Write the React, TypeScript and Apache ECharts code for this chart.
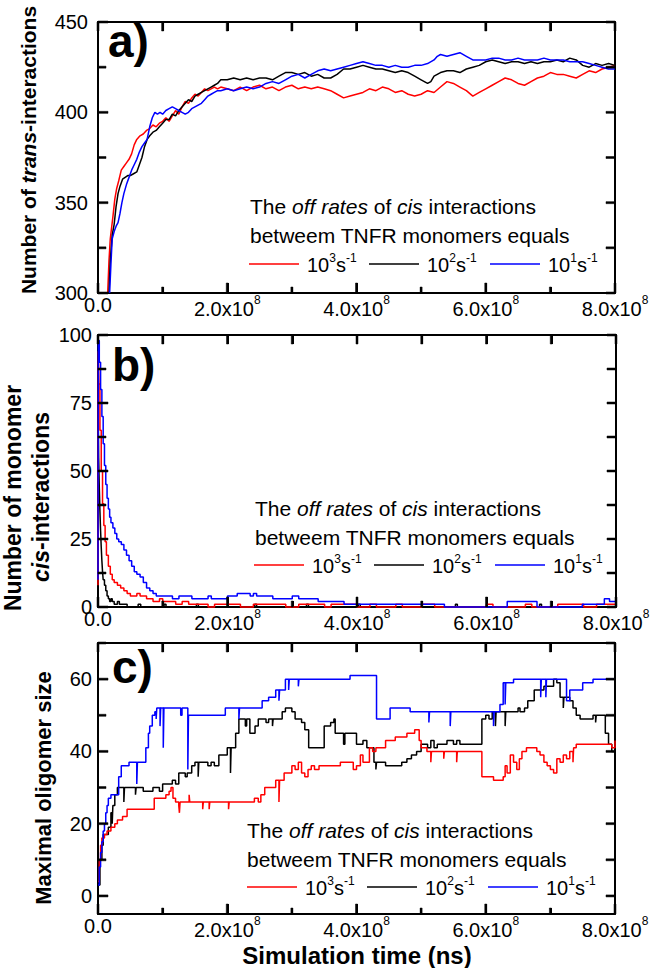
import React, { useEffect, useRef } from 'react';
import * as echarts from 'echarts';

const FONT = '"Liberation Sans", Arial, Helvetica, sans-serif';
const RED = '#ff0000';
const BLACK = '#000000';
const BLUE = '#0000ff';

const X_MIN = 0;
const X_MAX = 8;
const X_POWER = '8';
const rateExponents = ['3', '2', '1'];

const xTickValues = [0, 1, 2, 3, 4, 5, 6, 7, 8];
const aYTicks = [300, 325, 350, 375, 400, 425, 450];
const bYTicks = [0, 12.5, 25, 37.5, 50, 62.5, 75, 87.5, 100];
const cYTicks = [0, 10, 20, 30, 40, 50, 60, 70];
const cYLabels = [0, 20, 40, 60];

const aRed: [number, number][] = [
  [0.15, 300], [0.17, 318], [0.19, 330], [0.21, 336], [0.23, 342], [0.26, 352], [0.29, 358], [0.32, 362],
  [0.36, 368], [0.40, 370], [0.44, 372], [0.48, 374], [0.52, 377], [0.56, 382], [0.60, 385], [0.65, 387],
  [0.70, 388], [0.75, 390], [0.80, 391], [0.85, 393], [0.90, 392], [0.95, 394], [1.0, 395], [1.05, 397],
  [1.10, 395], [1.15, 398], [1.20, 401], [1.25, 399], [1.30, 403], [1.35, 406], [1.40, 405], [1.45, 408],
  [1.50, 410], [1.55, 409], [1.60, 411], [1.65, 413], [1.70, 412], [1.75, 413], [1.80, 414], [1.85, 413],
  [1.90, 414], [2.0, 413], [2.1, 412], [2.2, 414], [2.3, 412], [2.4, 414], [2.5, 415], [2.6, 413],
  [2.7, 414], [2.8, 412], [2.9, 414], [3.0, 415], [3.1, 413], [3.2, 414], [3.3, 413], [3.4, 414],
  [3.5, 413], [3.6, 412], [3.7, 410], [3.8, 408], [3.9, 409], [4.0, 410], [4.1, 411], [4.2, 413],
  [4.3, 412], [4.4, 414], [4.5, 413], [4.6, 411], [4.7, 412], [4.8, 410], [4.9, 409], [5.0, 410],
  [5.1, 412], [5.2, 411], [5.3, 414], [5.4, 417], [5.5, 416], [5.6, 414], [5.7, 412], [5.8, 409],
  [5.9, 411], [6.0, 413], [6.1, 415], [6.2, 417], [6.3, 419], [6.4, 418], [6.5, 416], [6.6, 415],
  [6.7, 417], [6.8, 419], [6.9, 420], [7.0, 422], [7.1, 421], [7.2, 421], [7.3, 420], [7.4, 419],
  [7.5, 421], [7.6, 423], [7.7, 422], [7.8, 424], [7.9, 425], [8.0, 426],
];
const aBlack: [number, number][] = [
  [0.17, 300], [0.19, 318], [0.22, 332], [0.25, 338], [0.28, 348], [0.31, 355], [0.34, 359], [0.38, 363],
  [0.42, 364], [0.46, 365], [0.50, 365], [0.55, 366], [0.60, 367], [0.64, 371], [0.68, 375], [0.72, 381],
  [0.76, 385], [0.80, 387], [0.85, 389], [0.90, 390], [0.95, 392], [1.0, 394], [1.05, 396], [1.10, 396],
  [1.15, 399], [1.20, 398], [1.25, 401], [1.30, 403], [1.35, 405], [1.40, 407], [1.45, 406], [1.50, 409],
  [1.55, 410], [1.60, 411], [1.65, 412], [1.70, 413], [1.75, 414], [1.80, 415], [1.85, 416], [1.90, 418],
  [2.0, 418], [2.1, 419], [2.2, 418], [2.3, 419], [2.4, 418], [2.5, 419], [2.6, 419], [2.7, 418],
  [2.8, 420], [2.9, 422], [3.0, 422], [3.1, 421], [3.2, 422], [3.3, 420], [3.4, 421], [3.5, 419],
  [3.6, 419], [3.7, 421], [3.8, 424], [3.9, 424], [4.0, 425], [4.1, 426], [4.2, 425], [4.3, 424],
  [4.4, 424], [4.5, 423], [4.6, 422], [4.7, 423], [4.8, 422], [4.9, 420], [5.0, 418], [5.1, 416],
  [5.15, 417], [5.2, 420], [5.3, 422], [5.4, 423], [5.5, 423], [5.6, 422], [5.7, 424], [5.8, 425],
  [5.9, 426], [6.0, 428], [6.1, 429], [6.2, 428], [6.3, 427], [6.4, 428], [6.5, 428], [6.6, 427],
  [6.7, 428], [6.8, 427], [6.9, 428], [7.0, 428], [7.1, 429], [7.2, 428], [7.3, 430], [7.4, 429],
  [7.5, 426], [7.6, 425], [7.7, 427], [7.8, 426], [7.9, 427], [8.0, 426],
];
const aBlue: [number, number][] = [
  [0.18, 300], [0.20, 316], [0.22, 330], [0.25, 334], [0.28, 337], [0.31, 339], [0.34, 344], [0.37, 350],
  [0.40, 355], [0.44, 360], [0.48, 364], [0.52, 368], [0.56, 371], [0.60, 374], [0.64, 378], [0.68, 381],
  [0.72, 383], [0.76, 385], [0.80, 392], [0.84, 397], [0.88, 400], [0.92, 399], [0.96, 400], [1.0, 399],
  [1.05, 401], [1.10, 402], [1.15, 403], [1.20, 402], [1.25, 401], [1.30, 400], [1.35, 399], [1.40, 400],
  [1.45, 402], [1.50, 403], [1.55, 404], [1.60, 405], [1.65, 407], [1.70, 409], [1.75, 410], [1.80, 411],
  [1.85, 412], [1.90, 412], [2.0, 413], [2.1, 412], [2.2, 413], [2.3, 414], [2.4, 413], [2.5, 414],
  [2.6, 416], [2.7, 417], [2.8, 416], [2.9, 418], [3.0, 420], [3.1, 421], [3.2, 419], [3.3, 421],
  [3.4, 423], [3.5, 424], [3.6, 423], [3.7, 424], [3.8, 425], [3.9, 426], [4.0, 427], [4.1, 428],
  [4.2, 427], [4.3, 426], [4.4, 426], [4.5, 425], [4.6, 426], [4.7, 425], [4.8, 425], [4.9, 426],
  [5.0, 426], [5.1, 427], [5.2, 429], [5.25, 431], [5.3, 432], [5.4, 431], [5.5, 432], [5.6, 433],
  [5.7, 431], [5.8, 429], [5.9, 429], [6.0, 429], [6.1, 430], [6.2, 430], [6.3, 429], [6.4, 429],
  [6.5, 430], [6.6, 429], [6.7, 429], [6.8, 429], [6.9, 430], [7.0, 429], [7.1, 429], [7.2, 429],
  [7.3, 428], [7.4, 428], [7.5, 428], [7.6, 427], [7.7, 426], [7.8, 425], [7.9, 424], [8.0, 424],
];

const bRed: [number, number][] = [
  [0, 8], [0.005, 94], [0.015, 82], [0.03, 65], [0.05, 50], [0.07, 38], [0.09, 30], [0.11, 24],
  [0.13, 19], [0.16, 15], [0.19, 12], [0.22, 10], [0.25, 9], [0.3, 8], [0.35, 7], [0.4, 6],
  [0.45, 5], [0.5, 4], [0.6, 5], [0.65, 4], [0.75, 3], [0.85, 2], [0.95, 3], [1.0, 2],
  [1.2, 1], [1.3, 2], [1.4, 1], [1.7, 0], [1.8, 1], [2.2, 0], [2.4, 1], [2.9, 0],
  [3.1, 1], [3.5, 0], [3.6, 1], [4.0, 0], [4.2, 1], [4.3, 0], [4.6, 1], [4.7, 0],
  [5.0, 1], [5.2, 0], [6.0, 1], [6.1, 0], [6.6, 1], [6.7, 0], [7.1, 1], [7.5, 0],
  [7.7, 1], [8.0, 1],
];
const bBlack: [number, number][] = [
  [0, 12], [0.005, 68], [0.01, 55], [0.02, 44], [0.03, 35], [0.04, 28], [0.05, 22], [0.06, 17],
  [0.07, 13], [0.08, 10], [0.1, 8], [0.12, 6], [0.14, 4], [0.16, 3], [0.18, 2], [0.2, 3],
  [0.22, 2], [0.25, 1], [0.3, 2], [0.33, 1], [0.45, 0], [0.62, 1], [0.66, 0], [1.02, 1],
  [1.05, 0], [1.52, 1], [1.55, 0], [2.42, 1], [2.45, 0], [3.22, 1], [3.25, 0], [4.02, 1],
  [4.05, 0], [5.52, 1], [5.55, 0], [6.82, 1], [6.85, 0], [8.0, 0],
];
const bBlue: [number, number][] = [
  [0, 10], [0.005, 98], [0.02, 90], [0.04, 80], [0.06, 70], [0.08, 60], [0.1, 52], [0.12, 45],
  [0.14, 40], [0.16, 36], [0.18, 33], [0.2, 31], [0.23, 29], [0.26, 27], [0.29, 25], [0.32, 24],
  [0.36, 23], [0.4, 21], [0.44, 19], [0.48, 17], [0.52, 15], [0.56, 13], [0.6, 12], [0.65, 11],
  [0.7, 9], [0.75, 7], [0.8, 6], [0.85, 5], [0.9, 4], [1.15, 3], [1.25, 4], [1.45, 3],
  [1.7, 4], [1.75, 3], [2.0, 4], [2.15, 5], [2.35, 4], [2.4, 5], [2.45, 4], [2.7, 3],
  [3.0, 4], [3.1, 3], [3.4, 2], [3.8, 1], [5.35, 0], [6.32, 2], [6.78, 0], [7.48, 1],
  [7.82, 3], [7.9, 2], [8.0, 2],
];

const cRed: [number, number][] = [
  [0, 4], [0.02, 10], [0.04, 14], [0.06, 16], [0.1, 17], [0.14, 18], [0.2, 19], [0.26, 20],
  [0.3, 21], [0.38, 22], [0.45, 24], [0.87, 27], [1.05, 28], [1.1, 29], [1.13, 30], [1.16, 27],
  [1.2, 26], [1.25, 25], [1.26, 23], [1.27, 26], [1.41, 28], [1.42, 26], [1.62, 24], [1.63, 26],
  [1.72, 24], [1.73, 26], [2.02, 24], [2.03, 26], [2.42, 27], [2.48, 26], [2.52, 28], [2.58, 30],
  [2.75, 32], [2.8, 26], [2.81, 32], [2.88, 34], [3.0, 36], [3.05, 35], [3.1, 37], [3.15, 34],
  [3.2, 33], [3.25, 35], [3.3, 36], [3.35, 35], [3.42, 36], [3.75, 37], [3.95, 35], [4.0, 36],
  [4.06, 39], [4.1, 37], [4.2, 41], [4.25, 40], [4.3, 41], [4.45, 43], [4.6, 44], [4.78, 45],
  [4.9, 46], [4.97, 43], [5.0, 41], [5.09, 40], [5.15, 37], [5.16, 40], [5.35, 38], [5.36, 40],
  [5.55, 37], [5.56, 40], [5.94, 33], [6.12, 32], [6.27, 33], [6.3, 36], [6.33, 34], [6.38, 39],
  [6.43, 37], [6.48, 35], [6.52, 38], [6.56, 40], [6.63, 41], [6.79, 40], [6.84, 39], [6.9, 37],
  [6.95, 36], [7.0, 35], [7.05, 34], [7.1, 38], [7.15, 37], [7.2, 39], [7.25, 38], [7.3, 40],
  [7.35, 37], [7.36, 41], [7.4, 42], [7.95, 41], [8.0, 43],
];
const cBlack: [number, number][] = [
  [0, 3], [0.03, 10], [0.06, 14], [0.08, 17], [0.16, 19], [0.2, 23], [0.22, 20], [0.23, 25],
  [0.26, 28], [0.3, 30], [0.4, 26], [0.41, 30], [0.58, 28], [0.59, 30], [0.7, 29], [0.85, 30],
  [0.95, 29], [1.0, 31], [1.15, 32], [1.2, 31], [1.25, 34], [1.35, 33], [1.38, 34], [1.45, 36],
  [1.5, 37], [1.55, 33], [1.56, 37], [1.7, 36], [1.75, 37], [1.8, 36], [1.87, 39], [2.0, 41],
  [2.05, 34], [2.06, 41], [2.13, 45], [2.18, 49], [2.28, 47], [2.3, 49], [2.35, 45], [2.43, 47],
  [2.48, 49], [2.6, 48], [2.64, 49], [2.7, 47], [2.71, 49], [2.85, 51], [2.9, 52], [3.0, 51],
  [3.05, 49], [3.15, 48], [3.2, 46], [3.26, 41], [3.5, 47], [3.6, 48], [3.65, 49], [3.67, 45],
  [3.8, 42], [3.82, 45], [4.0, 42], [4.1, 43], [4.16, 41], [4.27, 37], [4.3, 35], [4.31, 37],
  [4.45, 36], [4.7, 37], [4.78, 38], [4.85, 39], [4.93, 40], [5.0, 42], [5.1, 41], [5.15, 43],
  [5.2, 41], [5.25, 42], [5.4, 43], [5.5, 42], [5.55, 43], [5.6, 42], [5.94, 49], [6.0, 50],
  [6.05, 49], [6.1, 51], [6.15, 47], [6.16, 51], [6.3, 47], [6.31, 51], [6.5, 52], [6.53, 51],
  [6.6, 52], [6.65, 54], [6.75, 57], [6.9, 58], [7.05, 60], [7.1, 59], [7.15, 55], [7.2, 52],
  [7.21, 55], [7.3, 54], [7.35, 52], [7.4, 50], [7.46, 49], [7.66, 50], [7.7, 48], [7.71, 50],
  [7.85, 45], [7.9, 42], [7.95, 40], [8.0, 41],
];
const cBlue: [number, number][] = [
  [0, 3], [0.02, 8], [0.04, 12], [0.06, 15], [0.08, 18], [0.1, 20], [0.12, 23], [0.14, 25],
  [0.16, 27], [0.2, 28], [0.32, 33], [0.36, 36], [0.48, 37], [0.6, 31], [0.61, 37], [0.74, 41],
  [0.78, 45], [0.8, 47], [0.84, 50], [0.88, 51], [0.9, 49], [0.91, 52], [0.96, 47], [0.97, 52],
  [1.01, 41], [1.02, 52], [1.28, 50], [1.3, 52], [1.39, 35], [1.4, 50], [1.97, 52], [2.18, 49],
  [2.19, 52], [2.54, 54], [2.64, 55], [2.75, 57], [2.8, 54], [2.81, 57], [2.9, 60], [2.95, 57],
  [2.96, 60], [3.1, 58], [3.11, 60], [3.9, 61], [4.31, 49], [4.52, 52], [4.83, 51], [5.12, 48],
  [5.13, 51], [5.45, 47], [5.46, 51], [6.12, 47], [6.13, 51], [6.22, 53], [6.27, 59], [6.3, 53],
  [6.31, 59], [6.43, 60], [6.85, 55], [6.86, 60], [6.93, 55], [6.94, 60], [7.25, 54], [7.3, 57],
  [7.5, 59], [7.66, 60], [8.0, 60],
];

const lineStyle = { color: '#000', width: 2 };
const tickLine = { color: '#000', width: 2 };

const xRich = {
  m: { fontSize: 20, fontFamily: FONT, color: '#000', lineHeight: 30 },
  z: { fontSize: 20, fontFamily: FONT, color: '#000', lineHeight: 22 },
  s: { fontSize: 12, fontFamily: FONT, color: '#000', lineHeight: 8, verticalAlign: 'top' },
};
const xFmt = (v: number) => (v === 0 ? '{z|0.0}' : `{m|${v.toFixed(1)}x10}{s|${X_POWER}}`);

function xBottom(gi: number) {
  return {
    gridIndex: gi, type: 'value', position: 'bottom', min: X_MIN, max: X_MAX, interval: 2,
    axisLine: { show: true, onZero: false, lineStyle },
    axisTick: { show: true, inside: true, length: 10, lineStyle: tickLine },
    minorTick: { show: true, splitNumber: 2, length: 6, lineStyle: tickLine },
    splitLine: { show: false }, minorSplitLine: { show: false },
    axisLabel: {
      show: true, margin: 1, showMinLabel: true, showMaxLabel: true, formatter: xFmt, rich: xRich,
      color: '#000', fontFamily: FONT, fontSize: 20,
    },
  };
}
function xTop(gi: number) {
  return {
    gridIndex: gi, type: 'value', position: 'top', min: X_MIN, max: X_MAX, interval: 1,
    axisLine: { show: true, onZero: false, lineStyle },
    axisTick: { show: true, inside: true, length: 9, lineStyle: tickLine },
    axisLabel: { show: false }, splitLine: { show: false },
  };
}
function yLeft(gi: number, min: number, max: number, interval: number | undefined, margin: number, customValues?: number[]) {
  return {
    gridIndex: gi, type: 'value', position: 'left', min, max, interval,
    axisLine: { show: true, onZero: false, lineStyle },
    axisTick: { show: false }, minorTick: { show: false },
    splitLine: { show: false }, minorSplitLine: { show: false },
    axisLabel: { show: true, margin, color: '#000', fontFamily: FONT, fontSize: 20, showMinLabel: true, showMaxLabel: true, customValues },
  };
}
function yRight(gi: number, min: number, max: number) {
  return {
    gridIndex: gi, type: 'value', position: 'right', min, max,
    axisLine: { show: true, onZero: false, lineStyle },
    axisTick: { show: false }, axisLabel: { show: false }, splitLine: { show: false },
  };
}

// tick marks as small filled bars placed through the axes' own scales (api.coord)
function tickSeries(xi: number, yi: number, yTicks: number[], yMajorEvery: number) {
  const data: number[][] = [
    ...xTickValues.map((v) => [0, v, v % 2 === 0 ? 1 : 0]),
    ...yTicks.map((v) => [1, v, Math.abs(v % yMajorEvery) < 1e-9 ? 1 : 0]),
  ];
  return {
    type: 'custom', coordinateSystem: 'cartesian2d', xAxisIndex: xi, yAxisIndex: yi, data, clip: false, silent: true, z: 10,
    renderItem: (params: any, api: any) => {
      const kind = api.value(0);
      const v = api.value(1);
      const major = api.value(2) === 1;
      const cs = params.coordSys;
      const st = { fill: '#000000', stroke: '#000000', lineWidth: 0.5 };
      if (kind === 0) {
        const px = api.coord([v, yTicks[0]])[0];
        const bottom = cs.y + cs.height;
        const lb = major ? 10 : 6;
        return {
          type: 'group',
          children: [
            { type: 'rect', shape: { x: px - 1, y: bottom - lb, width: 2, height: lb }, style: st },
            { type: 'rect', shape: { x: px - 1, y: cs.y, width: 2, height: 9 }, style: st },
          ],
        };
      }
      const py = api.coord([X_MIN, v])[1];
      const right = cs.x + cs.width;
      const ll = major ? 10 : 8;
      return {
        type: 'group',
        children: [
          { type: 'rect', shape: { x: cs.x, y: py - 1, width: ll, height: 2 }, style: st },
          { type: 'rect', shape: { x: right - 9, y: py - 1, width: 9, height: 2 }, style: st },
        ],
      };
    },
  };
}

function line(name: string, data: [number, number][], color: string, xi: number, yi: number, step?: string) {
  return {
    name, type: 'line', data, xAxisIndex: xi, yAxisIndex: yi, showSymbol: false, symbol: 'none',
    step: step || false, lineStyle: { color, width: 1.5 }, itemStyle: { color },
    emphasis: { disabled: true }, silent: true, clip: false, z: 2,
  };
}

function legendBlock(L: number, rowY: number, y1: number, y2: number, textLeft: number) {
  const els: any[] = [
    {
      type: 'text', x: textLeft, y: y1,
      style: {
        text: '{n|The }{i|off rates}{n| of }{i|cis}{n| interactions}', verticalAlign: 'middle', align: 'left',
        rich: {
          n: { fontSize: 21, fontFamily: FONT, fill: '#000' },
          i: { fontSize: 21, fontFamily: FONT, fontStyle: 'italic', fill: '#000' },
        },
      },
    },
    {
      type: 'text', x: textLeft, y: y2,
      style: { text: 'betweem TNFR monomers equals', fontSize: 21, fontFamily: FONT, fill: '#000', verticalAlign: 'middle', align: 'left' },
    },
  ];
  const colors = [RED, BLACK, BLUE];
  const lineStarts = [0, 120, 241];
  const textStarts = [58, 178, 299];
  colors.forEach((c, k) => {
    els.push({
      type: 'line', shape: { x1: L + lineStarts[k], y1: rowY, x2: L + lineStarts[k] + 50, y2: rowY },
      style: { stroke: c, lineWidth: 1.5 },
    });
    els.push({
      type: 'text', x: L + textStarts[k], y: rowY + 1,
      style: {
        text: `{m|10}{s|${rateExponents[k]}}{m|s}{s|-1}`, align: 'left', verticalAlign: 'middle',
        rich: {
          m: { fontSize: 20, fontFamily: FONT, fill: '#000', lineHeight: 26 },
          s: { fontSize: 12, fontFamily: FONT, fill: '#000', lineHeight: 10, verticalAlign: 'top' },
        },
      },
    });
  });
  return els;
}

export default function App() {
  const ref = useRef<HTMLDivElement>(null);
  useEffect(() => {
    if (!ref.current) return;
    const chart = echarts.init(ref.current, null, { renderer: 'svg' });
    const option: any = {
      animation: false,
      grid: [
        { left: 98, top: 22, width: 517, height: 271 },
        { left: 98, top: 335, width: 518, height: 272 },
        { left: 98, top: 643, width: 517, height: 271 },
      ],
      xAxis: [xBottom(0), xTop(0), xBottom(1), xTop(1), xBottom(2), xTop(2)],
      yAxis: [
        yLeft(0, 300, 450, 50, 10),
        yRight(0, 300, 450),
        yLeft(1, 0, 100, 25, 6),
        yRight(1, 0, 100),
        yLeft(2, -5, 70, undefined, 6, cYLabels),
        yRight(2, -5, 70),
      ],
      series: [
        line('a 10^3', aRed, RED, 0, 0),
        line('a 10^2', aBlack, BLACK, 0, 0),
        line('a 10^1', aBlue, BLUE, 0, 0),
        line('b 10^2', bBlack, BLACK, 2, 2, 'end'),
        line('b 10^3', bRed, RED, 2, 2, 'end'),
        line('b 10^1', bBlue, BLUE, 2, 2, 'end'),
        line('c 10^2', cBlack, BLACK, 4, 4, 'end'),
        line('c 10^3', cRed, RED, 4, 4, 'end'),
        line('c 10^1', cBlue, BLUE, 4, 4, 'end'),
        tickSeries(0, 0, aYTicks, 50),
        tickSeries(2, 2, bYTicks, 25),
        tickSeries(4, 4, cYTicks, 20),
      ],
      graphic: [
        { type: 'text', x: 108, y: 41, style: { text: 'a)', fontSize: 46, fontWeight: 'bold', fontFamily: FONT, fill: '#000', verticalAlign: 'middle' } },
        { type: 'text', x: 112, y: 365, style: { text: 'b)', fontSize: 46, fontWeight: 'bold', fontFamily: FONT, fill: '#000', verticalAlign: 'middle' } },
        { type: 'text', x: 112, y: 667, style: { text: 'c)', fontSize: 46, fontWeight: 'bold', fontFamily: FONT, fill: '#000', verticalAlign: 'middle' } },
        {
          type: 'text', x: 28, y: 150, rotation: Math.PI / 2,
          style: {
            text: '{b|Number of }{bi|trans}{b|-interactions}', align: 'center', verticalAlign: 'middle',
            rich: {
              b: { fontSize: 21, fontWeight: 'bold', fontFamily: FONT, fill: '#000' },
              bi: { fontSize: 21, fontWeight: 'bold', fontStyle: 'italic', fontFamily: FONT, fill: '#000' },
            },
          },
        },
        {
          type: 'text', x: 13, y: 498, rotation: Math.PI / 2,
          style: { text: 'Number of monomer', fontSize: 23, fontWeight: 'bold', fontFamily: FONT, fill: '#000', align: 'center', verticalAlign: 'middle' },
        },
        {
          type: 'text', x: 41, y: 497, rotation: Math.PI / 2,
          style: {
            text: '{bi|cis}{b|-interactions}', align: 'center', verticalAlign: 'middle',
            rich: {
              b: { fontSize: 23, fontWeight: 'bold', fontFamily: FONT, fill: '#000' },
              bi: { fontSize: 23, fontWeight: 'bold', fontStyle: 'italic', fontFamily: FONT, fill: '#000' },
            },
          },
        },
        {
          type: 'text', x: 43, y: 788, rotation: Math.PI / 2,
          style: { text: 'Maximal oligomer size', fontSize: 22, fontWeight: 'bold', fontFamily: FONT, fill: '#000', align: 'center', verticalAlign: 'middle' },
        },
        {
          type: 'text', x: 357, y: 955,
          style: { text: 'Simulation time (ns)', fontSize: 24, fontWeight: 'bold', fontFamily: FONT, fill: '#000', align: 'center', verticalAlign: 'middle' },
        },
        ...legendBlock(249, 264, 206, 235, 250),
        ...legendBlock(254, 565, 508, 537, 255),
        ...legendBlock(247, 887, 830, 859, 247),
      ],
    };
    chart.setOption(option);
    return () => chart.dispose();
  }, []);
  return <div ref={ref} style={{ position: 'fixed', left: 0, top: 0, width: 653, height: 968, background: '#fff' }} />;
}
